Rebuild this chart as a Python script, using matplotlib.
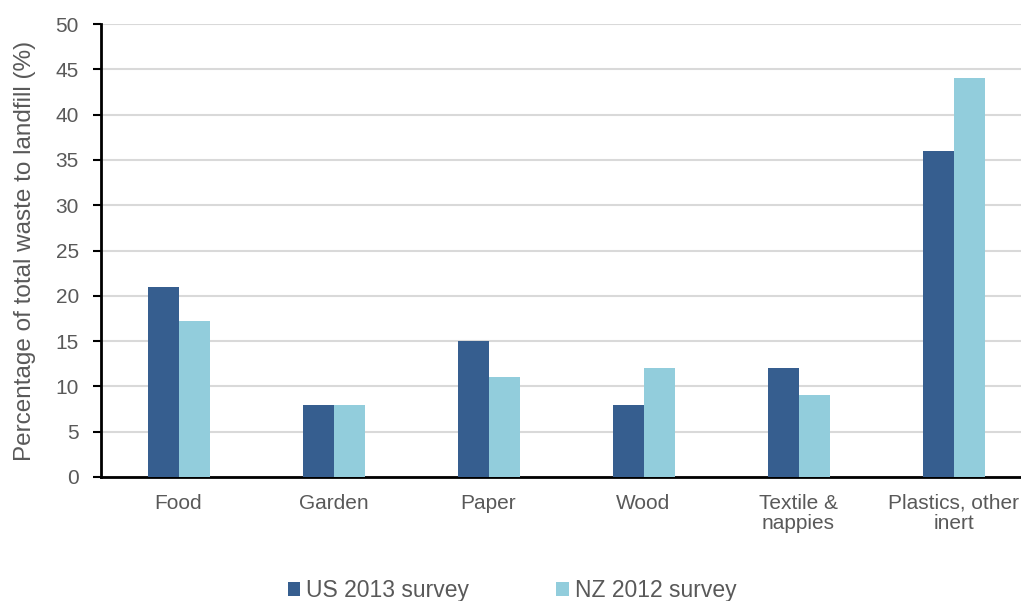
import numpy as np
import matplotlib
matplotlib.use("Agg")
import matplotlib.pyplot as plt

categories = ["Food", "Garden", "Paper", "Wood", "Textile &\nnappies", "Plastics, other\ninert"]
us_2013 = [21, 8, 15, 8, 12, 36]
nz_2012 = [17.2, 8, 11, 12, 9, 44]

plt.rcParams['font.family'] = ['Liberation Sans', 'DejaVu Sans']
grey = "#595959"

fig = plt.figure(figsize=(10.21, 6.01), dpi=100)
# axes run past the right edge, as in the original
ax = fig.add_axes([101/1021, 1-477/601, 930/1021, 453/601])

x = np.arange(len(categories))
w = 0.2
ax.bar(x - w/2, us_2013, w, color="#365e8f", label="US 2013 survey", zorder=3)
ax.bar(x + w/2, nz_2012, w, color="#92cddc", label="NZ 2012 survey", zorder=3)

ax.set_xlim(-0.5, len(categories) - 0.5)
ax.set_ylim(0, 50)
ax.set_yticks(range(0, 51, 5))
ax.yaxis.grid(True, color="#d9d9d9", linewidth=1.5, zorder=0)
ax.set_axisbelow(True)

ax.set_xticks(x)
ax.set_xticklabels(categories, color=grey, fontsize=15, linespacing=1.1)
ax.tick_params(axis="x", length=0, pad=12)
ax.tick_params(axis="y", length=6, width=1.5, colors="black", labelcolor=grey, labelsize=15, pad=10)

for s in ["top", "right"]:
    ax.spines[s].set_visible(False)
ax.spines["left"].set_linewidth(2)
ax.spines["bottom"].set_linewidth(2)

ax.set_ylabel("Percentage of total waste to landfill (%)", color=grey, fontsize=17.5, labelpad=14)

fig.legend(loc="center", bbox_to_anchor=(512/1021, 1-591/601), ncol=2, frameon=False,
           fontsize=16.5, labelcolor=grey, handlelength=0.55, handleheight=0.55,
           handletextpad=0.25, columnspacing=3.8)

fig.savefig("out.png", dpi=100)
